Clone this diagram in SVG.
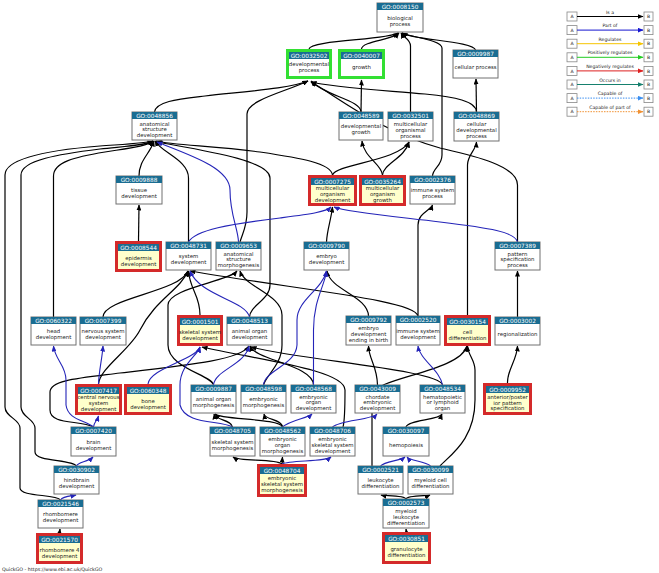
<svg xmlns="http://www.w3.org/2000/svg" width="659" height="573" viewBox="0 0 659 573">
<defs>
<style>
.bx{fill:#fff;stroke:#707070;stroke-width:1}
.rd{fill:#ffffcc;stroke:#d42a2a;stroke-width:3}
.gr{fill:#fff;stroke:#33e033;stroke-width:3}
.hd{fill:#1a6d92}
.id{font-family:"DejaVu Sans",sans-serif;font-size:5.8px;fill:#fff;text-anchor:middle}
.lb{font-family:"DejaVu Sans",sans-serif;font-size:5.4px;fill:#222;text-anchor:middle}
.e{fill:none;stroke:#000;stroke-width:1.2;marker-end:url(#ak)}
.p{fill:none;stroke:#2424b8;stroke-width:1.1;marker-end:url(#ab)}
.lgb{fill:#fff;stroke:#888;stroke-width:0.8}
.lgt{font-family:"DejaVu Sans",sans-serif;font-size:4.6px;fill:#222;text-anchor:middle}
.ft{font-family:"DejaVu Sans",sans-serif;font-size:4.8px;fill:#222}
</style>
<marker id="ak" markerUnits="userSpaceOnUse" markerWidth="6" markerHeight="5" refX="5.5" refY="2.5" orient="auto"><path d="M0,0 L6,2.5 L0,5z" fill="#000"/></marker>
<marker id="ab" markerUnits="userSpaceOnUse" markerWidth="6" markerHeight="5" refX="5.5" refY="2.5" orient="auto"><path d="M0,0 L6,2.5 L0,5z" fill="#2424b8"/></marker>
<marker id="m1" markerUnits="userSpaceOnUse" markerWidth="6" markerHeight="5" refX="5.5" refY="2.5" orient="auto"><path d="M0,0 L6,2.5 L0,5z" fill="#000"/></marker>
<marker id="m2" markerUnits="userSpaceOnUse" markerWidth="6" markerHeight="5" refX="5.5" refY="2.5" orient="auto"><path d="M0,0 L6,2.5 L0,5z" fill="#1515d0"/></marker>
<marker id="m3" markerUnits="userSpaceOnUse" markerWidth="6" markerHeight="5" refX="5.5" refY="2.5" orient="auto"><path d="M0,0 L6,2.5 L0,5z" fill="#f5c400"/></marker>
<marker id="m4" markerUnits="userSpaceOnUse" markerWidth="6" markerHeight="5" refX="5.5" refY="2.5" orient="auto"><path d="M0,0 L6,2.5 L0,5z" fill="#22cc22"/></marker>
<marker id="m5" markerUnits="userSpaceOnUse" markerWidth="6" markerHeight="5" refX="5.5" refY="2.5" orient="auto"><path d="M0,0 L6,2.5 L0,5z" fill="#dd2020"/></marker>
<marker id="m6" markerUnits="userSpaceOnUse" markerWidth="6" markerHeight="5" refX="5.5" refY="2.5" orient="auto"><path d="M0,0 L6,2.5 L0,5z" fill="#16806e"/></marker>
<marker id="m7" markerUnits="userSpaceOnUse" markerWidth="6" markerHeight="5" refX="5.5" refY="2.5" orient="auto"><path d="M0,0 L6,2.5 L0,5z" fill="#3a8ef0"/></marker>
<marker id="m8" markerUnits="userSpaceOnUse" markerWidth="6" markerHeight="5" refX="5.5" refY="2.5" orient="auto"><path d="M0,0 L6,2.5 L0,5z" fill="#f09030"/></marker>
</defs>
<rect width="659" height="573" fill="#fff"/>

<g id="connectors">
<path class="e" d="M309,49 C310,40 388,40 398,33"/>
<path class="e" d="M361.5,49 C362,41 393,40 399,33"/>
<path class="e" d="M475.5,50 C474,41 412,40 402,33"/>
<path class="e" d="M410.5,112 L410.5,46 C410.5,39 403,37 401,33"/>
<path class="e" d="M432.5,176 C433,168 442,166 442,155 L442,48 C442,40 410,37 402,33"/>
<path class="e" d="M154.5,112 C156,101 180,99 205,96 C250,91 292,88 308,81"/>
<path class="e" d="M361,112 C361,100 325,96 311,81"/>
<path class="e" d="M361,112 L361.5,80"/>
<path class="e" d="M476.5,112 C476,101 455,97 425,94 C380,90 330,87 311,82"/>
<path class="e" d="M476.5,112 L476,79"/>
<path class="e" d="M139,176 C139,160 150,154 154,141"/>
<path class="e" d="M332.5,175 C331,163 300,158 260,152 C215,146 172,145 156,141"/>
<path class="e" d="M332.5,175 C336,164 398,161 409,142"/>
<path class="e" d="M382.5,175 C382,164 364,158 362,141"/>
<path class="e" d="M382.5,175 C383,164 405,158 409,142"/>
<path class="e" d="M138.5,241 L139,205"/>
<path class="e" d="M188.5,242 L188.5,178 C188.5,160 162,153 155,141"/>
<path class="e" d="M240,242 C243,232 247,226 247,212 L247,114 C247,100 285,92 308,81"/>
<path class="e" d="M326.5,242 C327,230 331,220 332.5,207"/>
<path class="e" d="M517.5,242 L517.5,185 C517.5,165 470,155 440,148 C380,132 335,95 311,82"/>
<path class="e" d="M53.5,317 L53.5,176 C53.5,162 75,157 105,152 C130,148 148,146 153,141"/>
<path class="e" d="M76.5,466 C72,459 35,462 35,452 L35,428 C35,419 21,417 21,407 L21,175 C21,160 60,154 100,149 C128,146 148,145 153,141"/>
<path class="e" d="M60.5,500 C56,494 20,497 20,488 L20,428 C20,419 5,417 5,407 L5,175 C5,158 50,150 100,146 C128,144 148,143 153,141"/>
<path class="e" d="M103,317 C103,298 180,292 188,271"/>
<path class="e" d="M200,315 C200,295 190,290 188.5,271"/>
<path class="e" d="M249.5,317 C250,305 270,300 270,285 L270,178 C270,160 200,150 157,142"/>
<path class="e" d="M368.5,316 C368,296 330,290 327,271"/>
<path class="e" d="M418,316 L418,225 C418,213 431,210 432.5,205"/>
<path class="e" d="M467.5,315 L467.5,165 C467.5,155 476,150 476.5,142"/>
<path class="e" d="M517.5,317 L517.5,271"/>
<path class="e" d="M507.5,383 C507,370 517,360 517.5,346"/>
<path class="e" d="M98.5,384 C100,368 130,350 140,330 C155,300 180,290 188,271"/>
<path class="e" d="M93.5,427 C80,420 50,425 50,410 L50,392 C50,380 80,378 120,373 C190,365 240,360 249,346"/>
<path class="e" d="M418,316 C415,300 300,290 190,271"/>
<path class="e" d="M213.5,385 C212,375 168,368 168,345 L168,305 C168,288 228,282 237,271"/>
<path class="e" d="M263.5,385 C266,375 282,365 282,345 L282,315 C282,295 245,287 240,271"/>
<path class="e" d="M313.5,385 C313,365 255,360 250,346"/>
<path class="e" d="M377.5,385 C377,365 369,360 368.5,346"/>
<path class="e" d="M442.5,385 C440,370 300,360 251,347"/>
<path class="e" d="M232.5,427 C232,420 215,420 214,414"/>
<path class="e" d="M282.5,427 C280,418 220,420 215,414"/>
<path class="e" d="M282.5,427 C282,419 265,420 264,414"/>
<path class="e" d="M343,427 C345,420 345,400 345,390 C345,370 260,360 202,347"/>
<path class="e" d="M406,427 C407,420 440,420 442,414"/>
<path class="e" d="M282,464 C275,458 240,462 233,457"/>
<path class="e" d="M282,464 L282.5,457"/>
<path class="e" d="M372,466 L372,395 C372,378 460,372 467,346"/>
<path class="e" d="M440,466 C450,455 475,440 475,400 L475,370 C475,360 468,355 467.5,346"/>
<path class="e" d="M406,499 C405,495 385,496 381,495"/>
<path class="e" d="M406,499 C407,495 428,496 430,495"/>
<path class="e" d="M406.5,532 L406,529"/>
<path class="e" d="M59.5,533 L60,529"/>

<path class="p" d="M188.5,242 C195,230 230,224 280,218 C310,214 326,212 331,207"/>
<path class="p" d="M238.5,242 C238,228 230,215 230,190 C230,168 190,155 157,142"/>
<path class="p" d="M517.5,242 C515,232 490,228 440,222 C390,216 346,212 334,207"/>
<path class="p" d="M249.5,317 C245,300 200,296 190,271"/>
<path class="p" d="M98.5,384 C99,370 102,360 103,346"/>
<path class="p" d="M148,384 C150,368 195,360 200,347"/>
<path class="p" d="M213.5,385 C215,370 245,365 249,346"/>
<path class="p" d="M263.5,385 C265,370 296,365 297,345 L297,320 C297,300 322,290 326.5,271"/>
<path class="p" d="M313.5,385 L313.5,330 C313.5,300 325,285 326.5,271"/>
<path class="p" d="M442.5,385 C440,370 420,360 418,346"/>
<path class="p" d="M93.5,427 C94,422 97,421 98.5,416"/>
<path class="p" d="M93.5,427 C85,420 68,420 66,405 L66,380 C66,365 55,360 53.5,346"/>
<path class="p" d="M232.5,427 C220,420 185,425 180,405 L180,385 C180,365 198,355 200,347"/>
<path class="p" d="M282.5,427 C290,420 308,418 312,414"/>
<path class="p" d="M332.5,427 C340,420 372,420 377,414"/>
<path class="p" d="M76.5,466 C78,462 88,462 93,457"/>
<path class="p" d="M282,464 C290,460 325,462 331,457"/>
<path class="p" d="M380.5,466 C385,461 400,461 405,457"/>
<path class="p" d="M430.5,466 C425,461 410,461 407,457"/>
<path class="p" d="M60.5,500 C63,496 72,496 76,495"/>
</g>

<g id="GO0008150"><rect class="bx" x="377" y="3" width="46" height="29"/><rect class="hd" x="377" y="3" width="46" height="7"/><text class="id" x="400" y="8.6">GO:0008150</text><text class="lb" x="400" y="19.9">biological</text><text class="lb" x="400" y="25.9">process</text></g>
<g id="GO0032502"><rect class="gr" x="287.5" y="50.5" width="43" height="27"/><rect class="hd" x="289" y="52" width="40" height="7"/><text class="id" x="309" y="57.6">GO:0032502</text><text class="lb" x="309" y="66.4">developmental</text><text class="lb" x="309" y="72.4">process</text></g>
<g id="GO0040007"><rect class="gr" x="339.5" y="50.5" width="44" height="27"/><rect class="hd" x="341" y="52" width="41" height="7"/><text class="id" x="361.5" y="57.6">GO:0040007</text><text class="lb" x="361.5" y="69.4">growth</text></g>
<g id="GO0009987"><rect class="bx" x="453" y="50" width="45" height="28"/><rect class="hd" x="453" y="50" width="45" height="7"/><text class="id" x="475.5" y="55.6">GO:0009987</text><text class="lb" x="475.5" y="69.4">cellular process</text></g>
<g id="GO0048856"><rect class="bx" x="132" y="112" width="45" height="28"/><rect class="hd" x="132" y="112" width="45" height="7"/><text class="id" x="154.5" y="117.6">GO:0048856</text><text class="lb" x="154.5" y="125.6">anatomical</text><text class="lb" x="154.5" y="131.4">structure</text><text class="lb" x="154.5" y="137.2">development</text></g>
<g id="GO0048589"><rect class="bx" x="339" y="112" width="44" height="28"/><rect class="hd" x="339" y="112" width="44" height="7"/><text class="id" x="361" y="117.6">GO:0048589</text><text class="lb" x="361" y="128.4">developmental</text><text class="lb" x="361" y="134.4">growth</text></g>
<g id="GO0032501"><rect class="bx" x="388" y="112" width="45" height="29"/><rect class="hd" x="388" y="112" width="45" height="7"/><text class="id" x="410.5" y="117.6">GO:0032501</text><text class="lb" x="410.5" y="126.1">multicellular</text><text class="lb" x="410.5" y="131.9">organismal</text><text class="lb" x="410.5" y="137.7">process</text></g>
<g id="GO0048869"><rect class="bx" x="454" y="112" width="45" height="29"/><rect class="hd" x="454" y="112" width="45" height="7"/><text class="id" x="476.5" y="117.6">GO:0048869</text><text class="lb" x="476.5" y="126.1">cellular</text><text class="lb" x="476.5" y="131.9">developmental</text><text class="lb" x="476.5" y="137.7">process</text></g>
<g id="GO0009888"><rect class="bx" x="116" y="176" width="46" height="28"/><rect class="hd" x="116" y="176" width="46" height="7"/><text class="id" x="139" y="181.6">GO:0009888</text><text class="lb" x="139" y="192.4">tissue</text><text class="lb" x="139" y="198.4">development</text></g>
<g id="GO0007275"><rect class="rd" x="309.5" y="176.5" width="46" height="28"/><rect class="hd" x="311" y="178" width="43" height="7"/><text class="id" x="332.5" y="183.6">GO:0007275</text><text class="lb" x="332.5" y="190.2">multicellular</text><text class="lb" x="332.5" y="196">organism</text><text class="lb" x="332.5" y="201.8">development</text></g>
<g id="GO0035264"><rect class="rd" x="360.5" y="176.5" width="44" height="28"/><rect class="hd" x="362" y="178" width="41" height="7"/><text class="id" x="382.5" y="183.6">GO:0035264</text><text class="lb" x="382.5" y="190.2">multicellular</text><text class="lb" x="382.5" y="196">organism</text><text class="lb" x="382.5" y="201.8">growth</text></g>
<g id="GO0002376"><rect class="bx" x="410" y="176" width="45" height="28"/><rect class="hd" x="410" y="176" width="45" height="7"/><text class="id" x="432.5" y="181.6">GO:0002376</text><text class="lb" x="432.5" y="192.4">immune system</text><text class="lb" x="432.5" y="198.4">process</text></g>
<g id="GO0008544"><rect class="rd" x="116.5" y="242.5" width="44" height="28"/><rect class="hd" x="118" y="244" width="41" height="7"/><text class="id" x="138.5" y="249.6">GO:0008544</text><text class="lb" x="138.5" y="259.9">epidermis</text><text class="lb" x="138.5" y="265.9">development</text></g>
<g id="GO0048731"><rect class="bx" x="166" y="242" width="45" height="28"/><rect class="hd" x="166" y="242" width="45" height="7"/><text class="id" x="188.5" y="247.6">GO:0048731</text><text class="lb" x="188.5" y="258.4">system</text><text class="lb" x="188.5" y="264.4">development</text></g>
<g id="GO0009653"><rect class="bx" x="216" y="242" width="45" height="28"/><rect class="hd" x="216" y="242" width="45" height="7"/><text class="id" x="238.5" y="247.6">GO:0009653</text><text class="lb" x="238.5" y="255.6">anatomical</text><text class="lb" x="238.5" y="261.4">structure</text><text class="lb" x="238.5" y="267.2">morphogenesis</text></g>
<g id="GO0009790"><rect class="bx" x="304" y="242" width="45" height="28"/><rect class="hd" x="304" y="242" width="45" height="7"/><text class="id" x="326.5" y="247.6">GO:0009790</text><text class="lb" x="326.5" y="258.4">embryo</text><text class="lb" x="326.5" y="264.4">development</text></g>
<g id="GO0007389"><rect class="bx" x="495" y="242" width="45" height="28"/><rect class="hd" x="495" y="242" width="45" height="7"/><text class="id" x="517.5" y="247.6">GO:0007389</text><text class="lb" x="517.5" y="255.6">pattern</text><text class="lb" x="517.5" y="261.4">specification</text><text class="lb" x="517.5" y="267.2">process</text></g>
<g id="GO0060322"><rect class="bx" x="31" y="317" width="45" height="28"/><rect class="hd" x="31" y="317" width="45" height="7"/><text class="id" x="53.5" y="322.6">GO:0060322</text><text class="lb" x="53.5" y="333.4">head</text><text class="lb" x="53.5" y="339.4">development</text></g>
<g id="GO0007399"><rect class="bx" x="80" y="317" width="46" height="28"/><rect class="hd" x="80" y="317" width="46" height="7"/><text class="id" x="103" y="322.6">GO:0007399</text><text class="lb" x="103" y="333.4">nervous system</text><text class="lb" x="103" y="339.4">development</text></g>
<g id="GO0001501"><rect class="rd" x="178.5" y="316.5" width="43" height="28"/><rect class="hd" x="180" y="318" width="40" height="7"/><text class="id" x="200" y="323.6">GO:0001501</text><text class="lb" x="200" y="333.9">skeletal system</text><text class="lb" x="200" y="339.9">development</text></g>
<g id="GO0048513"><rect class="bx" x="227" y="317" width="45" height="28"/><rect class="hd" x="227" y="317" width="45" height="7"/><text class="id" x="249.5" y="322.6">GO:0048513</text><text class="lb" x="249.5" y="333.4">animal organ</text><text class="lb" x="249.5" y="339.4">development</text></g>
<g id="GO0009792"><rect class="bx" x="346" y="316" width="45" height="29"/><rect class="hd" x="346" y="316" width="45" height="7"/><text class="id" x="368.5" y="321.6">GO:0009792</text><text class="lb" x="368.5" y="330.1">embryo</text><text class="lb" x="368.5" y="335.9">development</text><text class="lb" x="368.5" y="341.7">ending in birth</text></g>
<g id="GO0002520"><rect class="bx" x="396" y="316" width="44" height="29"/><rect class="hd" x="396" y="316" width="44" height="7"/><text class="id" x="418" y="321.6">GO:0002520</text><text class="lb" x="418" y="332.9">immune system</text><text class="lb" x="418" y="338.9">development</text></g>
<g id="GO0030154"><rect class="rd" x="445.5" y="316.5" width="44" height="28"/><rect class="hd" x="447" y="318" width="41" height="7"/><text class="id" x="467.5" y="323.6">GO:0030154</text><text class="lb" x="467.5" y="333.9">cell</text><text class="lb" x="467.5" y="339.9">differentiation</text></g>
<g id="GO0003002"><rect class="bx" x="495" y="317" width="45" height="28"/><rect class="hd" x="495" y="317" width="45" height="7"/><text class="id" x="517.5" y="322.6">GO:0003002</text><text class="lb" x="517.5" y="336.4">regionalization</text></g>
<g id="GO0007417"><rect class="rd" x="76.5" y="385.5" width="44" height="28"/><rect class="hd" x="78" y="387" width="41" height="7"/><text class="id" x="98.5" y="392.6">GO:0007417</text><text class="lb" x="98.5" y="399.2">central nervous</text><text class="lb" x="98.5" y="405">system</text><text class="lb" x="98.5" y="410.8">development</text></g>
<g id="GO0060348"><rect class="rd" x="125.5" y="385.5" width="45" height="28"/><rect class="hd" x="127" y="387" width="42" height="7"/><text class="id" x="148" y="392.6">GO:0060348</text><text class="lb" x="148" y="402.9">bone</text><text class="lb" x="148" y="408.9">development</text></g>
<g id="GO0009887"><rect class="bx" x="191" y="385" width="45" height="28"/><rect class="hd" x="191" y="385" width="45" height="7"/><text class="id" x="213.5" y="390.6">GO:0009887</text><text class="lb" x="213.5" y="401.4">animal organ</text><text class="lb" x="213.5" y="407.4">morphogenesis</text></g>
<g id="GO0048598"><rect class="bx" x="241" y="385" width="45" height="28"/><rect class="hd" x="241" y="385" width="45" height="7"/><text class="id" x="263.5" y="390.6">GO:0048598</text><text class="lb" x="263.5" y="401.4">embryonic</text><text class="lb" x="263.5" y="407.4">morphogenesis</text></g>
<g id="GO0048568"><rect class="bx" x="291" y="385" width="45" height="28"/><rect class="hd" x="291" y="385" width="45" height="7"/><text class="id" x="313.5" y="390.6">GO:0048568</text><text class="lb" x="313.5" y="398.6">embryonic</text><text class="lb" x="313.5" y="404.4">organ</text><text class="lb" x="313.5" y="410.2">development</text></g>
<g id="GO0043009"><rect class="bx" x="355" y="385" width="45" height="28"/><rect class="hd" x="355" y="385" width="45" height="7"/><text class="id" x="377.5" y="390.6">GO:0043009</text><text class="lb" x="377.5" y="398.6">chordate</text><text class="lb" x="377.5" y="404.4">embryonic</text><text class="lb" x="377.5" y="410.2">development</text></g>
<g id="GO0048534"><rect class="bx" x="420" y="385" width="45" height="28"/><rect class="hd" x="420" y="385" width="45" height="7"/><text class="id" x="442.5" y="390.6">GO:0048534</text><text class="lb" x="442.5" y="398.6">hematopoietic</text><text class="lb" x="442.5" y="404.4">or lymphoid</text><text class="lb" x="442.5" y="410.2">organ</text></g>
<g id="GO0009952"><rect class="rd" x="484.5" y="384.5" width="46" height="29"/><rect class="hd" x="486" y="386" width="43" height="7"/><text class="id" x="507.5" y="391.6">GO:0009952</text><text class="lb" x="507.5" y="398.7">anterior/poster</text><text class="lb" x="507.5" y="404.5">ior pattern</text><text class="lb" x="507.5" y="410.3">specification</text></g>
<g id="GO0007420"><rect class="bx" x="71" y="427" width="45" height="29"/><rect class="hd" x="71" y="427" width="45" height="7"/><text class="id" x="93.5" y="432.6">GO:0007420</text><text class="lb" x="93.5" y="443.9">brain</text><text class="lb" x="93.5" y="449.9">development</text></g>
<g id="GO0048705"><rect class="bx" x="210" y="427" width="45" height="29"/><rect class="hd" x="210" y="427" width="45" height="7"/><text class="id" x="232.5" y="432.6">GO:0048705</text><text class="lb" x="232.5" y="443.9">skeletal system</text><text class="lb" x="232.5" y="449.9">morphogenesis</text></g>
<g id="GO0048562"><rect class="bx" x="260" y="427" width="45" height="29"/><rect class="hd" x="260" y="427" width="45" height="7"/><text class="id" x="282.5" y="432.6">GO:0048562</text><text class="lb" x="282.5" y="441.1">embryonic</text><text class="lb" x="282.5" y="446.9">organ</text><text class="lb" x="282.5" y="452.7">morphogenesis</text></g>
<g id="GO0048706"><rect class="bx" x="310" y="427" width="45" height="29"/><rect class="hd" x="310" y="427" width="45" height="7"/><text class="id" x="332.5" y="432.6">GO:0048706</text><text class="lb" x="332.5" y="441.1">embryonic</text><text class="lb" x="332.5" y="446.9">skeletal system</text><text class="lb" x="332.5" y="452.7">development</text></g>
<g id="GO0030097"><rect class="bx" x="383" y="427" width="46" height="29"/><rect class="hd" x="383" y="427" width="46" height="7"/><text class="id" x="406" y="432.6">GO:0030097</text><text class="lb" x="406" y="446.9">hemopoiesis</text></g>
<g id="GO0030902"><rect class="bx" x="54" y="466" width="45" height="28"/><rect class="hd" x="54" y="466" width="45" height="7"/><text class="id" x="76.5" y="471.6">GO:0030902</text><text class="lb" x="76.5" y="482.4">hindbrain</text><text class="lb" x="76.5" y="488.4">development</text></g>
<g id="GO0048704"><rect class="rd" x="258.5" y="465.5" width="47" height="30"/><rect class="hd" x="260" y="467" width="44" height="7"/><text class="id" x="282" y="472.6">GO:0048704</text><text class="lb" x="282" y="480.2">embryonic</text><text class="lb" x="282" y="486">skeletal system</text><text class="lb" x="282" y="491.8">morphogenesis</text></g>
<g id="GO0002521"><rect class="bx" x="358" y="466" width="45" height="28"/><rect class="hd" x="358" y="466" width="45" height="7"/><text class="id" x="380.5" y="471.6">GO:0002521</text><text class="lb" x="380.5" y="482.4">leukocyte</text><text class="lb" x="380.5" y="488.4">differentiation</text></g>
<g id="GO0030099"><rect class="bx" x="408" y="466" width="45" height="28"/><rect class="hd" x="408" y="466" width="45" height="7"/><text class="id" x="430.5" y="471.6">GO:0030099</text><text class="lb" x="430.5" y="482.4">myeloid cell</text><text class="lb" x="430.5" y="488.4">differentiation</text></g>
<g id="GO0021546"><rect class="bx" x="38" y="500" width="45" height="28"/><rect class="hd" x="38" y="500" width="45" height="7"/><text class="id" x="60.5" y="505.6">GO:0021546</text><text class="lb" x="60.5" y="516.4">rhombomere</text><text class="lb" x="60.5" y="522.4">development</text></g>
<g id="GO0002573"><rect class="bx" x="383" y="499" width="46" height="29"/><rect class="hd" x="383" y="499" width="46" height="7"/><text class="id" x="406" y="504.6">GO:0002573</text><text class="lb" x="406" y="513.1">myeloid</text><text class="lb" x="406" y="518.9">leukocyte</text><text class="lb" x="406" y="524.7">differentiation</text></g>
<g id="GO0021570"><rect class="rd" x="37.5" y="534.5" width="44" height="28"/><rect class="hd" x="39" y="536" width="41" height="7"/><text class="id" x="59.5" y="541.6">GO:0021570</text><text class="lb" x="59.5" y="551.9">rhombomere 4</text><text class="lb" x="59.5" y="557.9">development</text></g>
<g id="GO0030851"><rect class="rd" x="383.5" y="533.5" width="46" height="29"/><rect class="hd" x="385" y="535" width="43" height="7"/><text class="id" x="406.5" y="540.6">GO:0030851</text><text class="lb" x="406.5" y="551.4">granulocyte</text><text class="lb" x="406.5" y="557.4">differentiation</text></g>

<g id="legend">
<rect class="lgb" x="567" y="12" width="10" height="9"/><text class="lgt" x="572" y="18.2">A</text><rect class="lgb" x="644" y="12" width="9" height="9"/><text class="lgt" x="648.5" y="18.2">B</text><text class="lgt" x="610" y="13.5">Is a</text><line x1="577" y1="16.5" x2="643" y2="16.5" stroke="#000" stroke-width="1" marker-end="url(#m1)"/>
<rect class="lgb" x="567" y="25.6" width="10" height="9"/><text class="lgt" x="572" y="31.8">A</text><rect class="lgb" x="644" y="25.6" width="9" height="9"/><text class="lgt" x="648.5" y="31.8">B</text><text class="lgt" x="610" y="27.1">Part of</text><line x1="577" y1="30.1" x2="643" y2="30.1" stroke="#1515d0" stroke-width="1" marker-end="url(#m2)"/>
<rect class="lgb" x="567" y="39.2" width="10" height="9"/><text class="lgt" x="572" y="45.4">A</text><rect class="lgb" x="644" y="39.2" width="9" height="9"/><text class="lgt" x="648.5" y="45.4">B</text><text class="lgt" x="610" y="40.7">Regulates</text><line x1="577" y1="43.7" x2="643" y2="43.7" stroke="#f5c400" stroke-width="1" marker-end="url(#m3)"/>
<rect class="lgb" x="567" y="52.8" width="10" height="9"/><text class="lgt" x="572" y="59">A</text><rect class="lgb" x="644" y="52.8" width="9" height="9"/><text class="lgt" x="648.5" y="59">B</text><text class="lgt" x="610" y="54.3">Positively regulates</text><line x1="577" y1="57.3" x2="643" y2="57.3" stroke="#22cc22" stroke-width="1" marker-end="url(#m4)"/>
<rect class="lgb" x="567" y="66.4" width="10" height="9"/><text class="lgt" x="572" y="72.6">A</text><rect class="lgb" x="644" y="66.4" width="9" height="9"/><text class="lgt" x="648.5" y="72.6">B</text><text class="lgt" x="610" y="67.9">Negatively regulates</text><line x1="577" y1="70.9" x2="643" y2="70.9" stroke="#dd2020" stroke-width="1" marker-end="url(#m5)"/>
<rect class="lgb" x="567" y="80" width="10" height="9"/><text class="lgt" x="572" y="86.2">A</text><rect class="lgb" x="644" y="80" width="9" height="9"/><text class="lgt" x="648.5" y="86.2">B</text><text class="lgt" x="610" y="81.5">Occurs in</text><line x1="577" y1="84.5" x2="643" y2="84.5" stroke="#16806e" stroke-width="1" marker-end="url(#m6)"/>
<rect class="lgb" x="567" y="93.6" width="10" height="9"/><text class="lgt" x="572" y="99.8">A</text><rect class="lgb" x="644" y="93.6" width="9" height="9"/><text class="lgt" x="648.5" y="99.8">B</text><text class="lgt" x="610" y="95.1">Capable of</text><line x1="577" y1="98.1" x2="643" y2="98.1" stroke="#3a8ef0" stroke-width="1" stroke-dasharray="1.5,1.2" marker-end="url(#m7)"/>
<rect class="lgb" x="567" y="107.2" width="10" height="9"/><text class="lgt" x="572" y="113.4">A</text><rect class="lgb" x="644" y="107.2" width="9" height="9"/><text class="lgt" x="648.5" y="113.4">B</text><text class="lgt" x="610" y="108.7">Capable of part of</text><line x1="577" y1="111.7" x2="643" y2="111.7" stroke="#f09030" stroke-width="1" stroke-dasharray="1.5,1.2" marker-end="url(#m8)"/>
</g>
<text class="ft" x="2" y="571">QuickGO - https://www.ebi.ac.uk/QuickGO</text>
</svg>
